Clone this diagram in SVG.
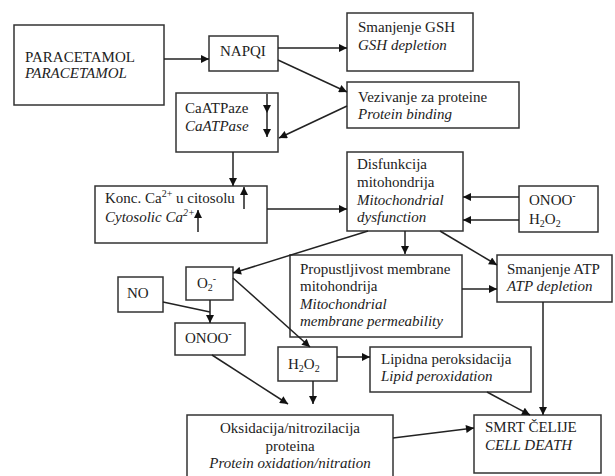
<svg xmlns="http://www.w3.org/2000/svg" width="615" height="476" viewBox="0 0 615 476">
<style>
.box{fill:#fff;stroke:#333;stroke-width:1.5}
text{font-family:"Liberation Serif","Times New Roman",serif;font-size:15px;fill:#222}
.i{font-style:italic}
.c line,.c path{stroke:#222;stroke-width:1.5;fill:none;marker-end:url(#arr)}
.c .nm{marker-end:none}
.sup{font-size:10px}
</style>
<defs>
<marker id="arr" viewBox="0 0 10 10" refX="10" refY="5" markerWidth="10" markerHeight="8" markerUnits="userSpaceOnUse" orient="auto">
<path d="M0,0 L10,5 L0,10 z" fill="#111"/>
</marker>
</defs>
<rect width="615" height="476" fill="#fff"/>
<g id="paracetamol"><rect class="box" x="14" y="25" width="150" height="80"/><text x="25" y="62">PARACETAMOL</text><text class="i" x="25" y="78">PARACETAMOL</text></g>
<g id="napqi"><rect class="box" x="209" y="36" width="69" height="35"/><text x="220" y="56">NAPQI</text></g>
<g id="gsh"><rect class="box" x="347" y="13" width="126" height="58"/><text x="358" y="32">Smanjenje GSH</text><text class="i" x="358" y="50">GSH depletion</text></g>
<g id="vezivanje"><rect class="box" x="347" y="82" width="172" height="46"/><text x="358" y="102">Vezivanje za proteine</text><text class="i" x="358" y="119">Protein binding</text></g>
<g id="caatpaze"><rect class="box" x="176" y="93" width="102" height="59"/><text x="185" y="113">CaATPaze</text><text class="i" x="185" y="131">CaATPase</text></g>
<g id="konc"><rect class="box" x="95" y="186" width="172" height="57"/><text x="105" y="203">Konc. Ca<tspan class="sup" dy="-6">2+</tspan><tspan dy="6"> u citosolu</tspan></text><text class="i" x="105" y="222">Cytosolic Ca<tspan class="sup" dy="-6">2+</tspan></text></g>
<g id="disfunkcija"><rect class="box" x="347" y="152" width="116" height="79"/><text x="357" y="169">Disfunkcija</text><text x="357" y="187">mitohondrija</text><text class="i" x="357" y="205">Mitochondrial</text><text class="i" x="357" y="222">dysfunction</text></g>
<g id="onoo-h2o2"><rect class="box" x="519" y="186" width="79" height="46"/><text x="529" y="205">ONOO<tspan class="sup" dy="-6">-</tspan></text><text x="529" y="224">H<tspan class="sup" dy="3">2</tspan><tspan dy="-3">O</tspan><tspan class="sup" dy="3">2</tspan></text></g>
<g id="propustljivost"><rect class="box" x="290" y="255" width="172" height="82"/><text x="300" y="274">Propustljivost membrane</text><text x="300" y="291">mitohondrija</text><text class="i" x="300" y="309">Mitochondrial</text><text class="i" x="300" y="326">membrane permeability</text></g>
<g id="atp"><rect class="box" x="497" y="255" width="115" height="47"/><text x="507" y="274">Smanjenje ATP</text><text class="i" x="507" y="291">ATP depletion</text></g>
<g id="o2"><rect class="box" x="186" y="267" width="47" height="33"/><text x="197" y="288">O<tspan class="sup" dy="3">2</tspan><tspan class="sup" dy="-9">-</tspan></text></g>
<g id="no"><rect class="box" x="118" y="277" width="45" height="35"/><text x="127" y="298">NO</text></g>
<g id="onoo"><rect class="box" x="175" y="323" width="70" height="32"/><text x="185" y="343">ONOO<tspan class="sup" dy="-6">-</tspan></text></g>
<g id="h2o2"><rect class="box" x="278" y="347" width="59" height="34"/><text x="288" y="369">H<tspan class="sup" dy="3">2</tspan><tspan dy="-3">O</tspan><tspan class="sup" dy="3">2</tspan></text></g>
<g id="lipidna"><rect class="box" x="370" y="347" width="161" height="45"/><text x="381" y="364">Lipidna peroksidacija</text><text class="i" x="381" y="381">Lipid peroxidation</text></g>
<g id="oksidacija"><rect class="box" x="187" y="415" width="206" height="65"/><text x="290" y="433" text-anchor="middle">Oksidacija/nitrozilacija</text><text x="290" y="451" text-anchor="middle">proteina</text><text class="i" x="290" y="468" text-anchor="middle">Protein oxidation/nitration</text></g>
<g id="smrt"><rect class="box" x="474" y="415" width="127" height="58"/><text x="485" y="432">SMRT ČELIJE</text><text class="i" x="485" y="450">CELL DEATH</text></g>
<g id="connectors" class="c">
<line x1="164" y1="59" x2="209" y2="59"/>
<line x1="278" y1="48" x2="347" y2="48"/>
<line x1="278" y1="60" x2="347" y2="92"/>
<line x1="347" y1="106" x2="279" y2="138"/>
<line x1="267" y1="94" x2="267" y2="113"/>
<line x1="267" y1="113" x2="267" y2="137"/>
<line x1="233" y1="152" x2="233" y2="186"/>
<line x1="244" y1="209" x2="244" y2="187"/>
<line x1="198" y1="232" x2="198" y2="210"/>
<line x1="267" y1="209" x2="347" y2="209"/>
<line x1="519" y1="197" x2="463" y2="197"/>
<line x1="519" y1="220" x2="463" y2="220"/>
<line x1="405" y1="231" x2="405" y2="254"/>
<line x1="440" y1="231" x2="497" y2="265"/>
<line x1="462" y1="289" x2="497" y2="289"/>
<line x1="368" y1="231" x2="233" y2="273"/>
<line class="nm" x1="163" y1="302" x2="210" y2="312"/>
<line x1="210" y1="300" x2="210" y2="323"/>
<line x1="233" y1="278" x2="310" y2="347"/>
<line x1="337" y1="357" x2="370" y2="357"/>
<line x1="313" y1="381" x2="313" y2="404"/>
<line x1="212" y1="355" x2="288" y2="404"/>
<line x1="393" y1="438" x2="474" y2="428"/>
<line x1="487" y1="392" x2="530" y2="415"/>
<line x1="543" y1="302" x2="543" y2="415"/>
</g>
</svg>
